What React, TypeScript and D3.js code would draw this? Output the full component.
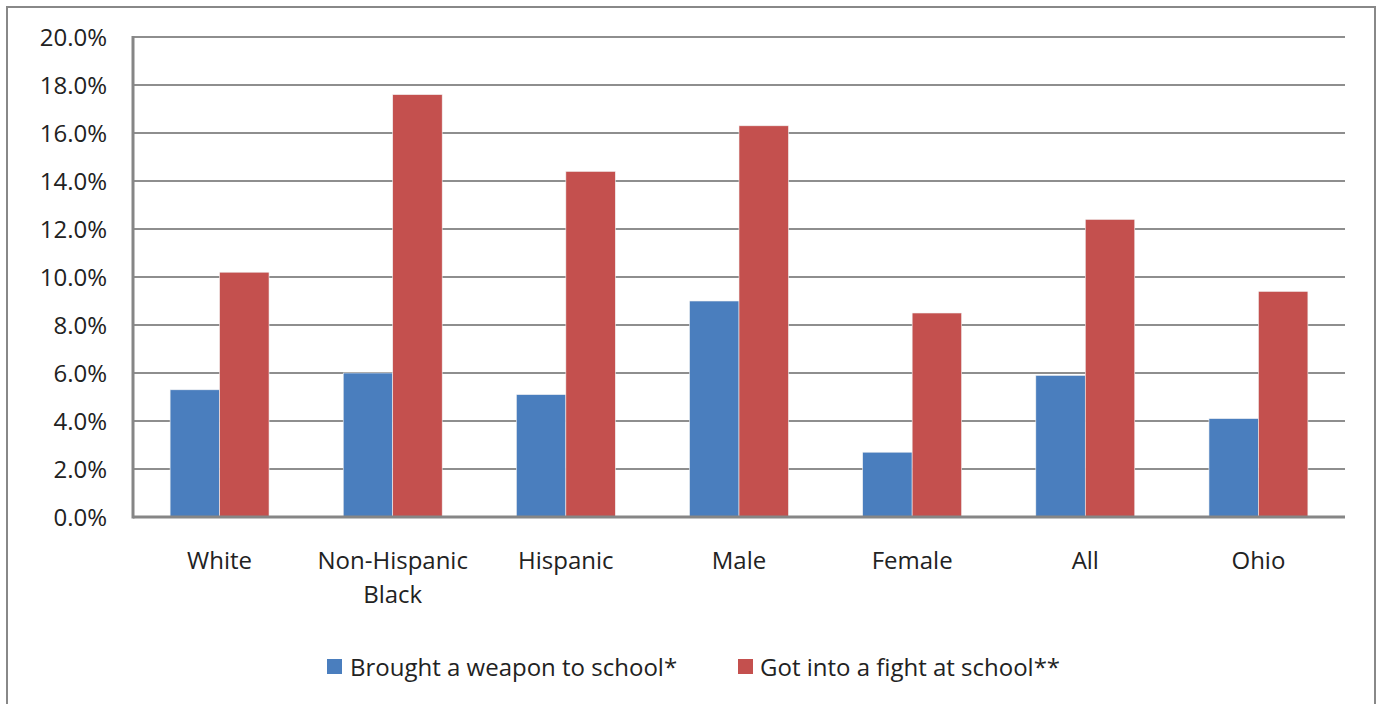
import React from "react";
import * as d3 from "d3";

const categories: string[][] = [
  ["White"],
  ["Non-Hispanic", "Black"],
  ["Hispanic"],
  ["Male"],
  ["Female"],
  ["All"],
  ["Ohio"],
];
const weapon: number[] = [5.3, 6.0, 5.1, 9.0, 2.7, 5.9, 4.1];
const fight: number[] = [10.2, 17.6, 14.4, 16.3, 8.5, 12.4, 9.4];
const seriesNames: string[] = ["Brought a weapon to school*", "Got into a fight at school**"];
const seriesColors: string[] = ["#4A7EBE", "#C4504E"];
const yTicks: number[] = [0, 2, 4, 6, 8, 10, 12, 14, 16, 18, 20];

const W = 1378;
const H = 704;
const plot = { left: 133, right: 1345, top: 37, bottom: 517 };
const FONT = "'Open Sans', 'DejaVu Sans', sans-serif";
const TEXT = "#222";
const GRID = "#8E8E8E";

export default function App() {
  const keys = categories.map((c) => c.join(" "));
  const x = d3.scaleBand<string>().domain(keys).range([plot.left, plot.right]).paddingInner(0).paddingOuter(0);
  const band = x.bandwidth();
  // two bars per group, gap of 1.5 bar widths between groups
  const barW = band / 3.5;
  const xs = d3.scaleBand<number>().domain([0, 1]).range([0, barW * 2]);
  const y = d3.scaleLinear().domain([0, 20]).range([plot.bottom, plot.top]);
  const series = [weapon, fight];

  return (
    <svg
      width={W}
      height={H}
      style={{ position: "absolute", left: 0, top: 0, background: "#fff" }}
      fontFamily={FONT}
    >
      <rect x={7} y={7} width={1368} height={720} fill="#fff" stroke="#888" strokeWidth={2} />

      {yTicks.slice(1).map((t) => (
        <line key={t} x1={plot.left} x2={plot.right} y1={y(t)} y2={y(t)} stroke={GRID} strokeWidth={2} />
      ))}

      {yTicks.map((t) => (
        <text
          key={"l" + t}
          x={107}
          y={y(t)}
          dy="0.36em"
          textAnchor="end"
          fontSize={24}
          fill={TEXT}
        >
          {d3.format(".1f")(t) + "%"}
        </text>
      ))}

      {keys.map((k, i) => {
        const gx = (x(k) as number) + (band - barW * 2) / 2;
        return (
          <g key={k}>
            {series.map((s, j) => (
              <rect
                key={j}
                x={gx + (xs(j) as number)}
                y={y(s[i])}
                width={xs.bandwidth()}
                height={y(0) - y(s[i])}
                fill={seriesColors[j]}
                stroke="#f2f2f2"
                strokeWidth={0.6}
              />
            ))}
          </g>
        );
      })}

      <line x1={plot.left} x2={plot.left} y1={plot.top - 1} y2={plot.bottom + 1.5} stroke="#868686" strokeWidth={3} />
      <line x1={plot.left} x2={plot.right} y1={plot.bottom} y2={plot.bottom} stroke="#868686" strokeWidth={3} />

      {categories.map((lines, i) => {
        const cx = (x(keys[i]) as number) + band / 2;
        return (
          <text key={"c" + i} x={cx} y={569} textAnchor="middle" fontSize={24} fill={TEXT}>
            {lines.map((ln, k) => (
              <tspan key={k} x={cx} dy={k === 0 ? 0 : 34}>
                {ln}
              </tspan>
            ))}
          </text>
        );
      })}

      <g>
        <rect x={327} y={659} width={15} height={15} fill={seriesColors[0]} />
        <text x={350} y={676} fontSize={24} fill={TEXT}>
          {seriesNames[0]}
        </text>
        <rect x={738} y={659} width={15} height={15} fill={seriesColors[1]} />
        <text x={760} y={676} fontSize={24} fill={TEXT}>
          {seriesNames[1]}
        </text>
      </g>
    </svg>
  );
}
